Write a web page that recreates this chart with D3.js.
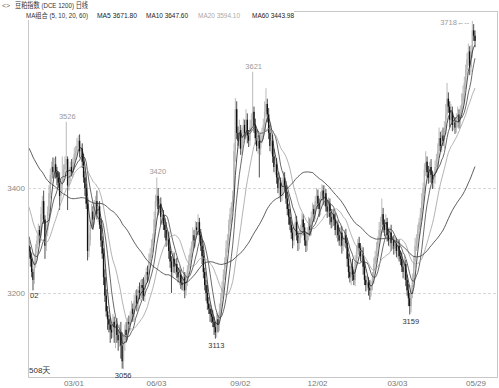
<!DOCTYPE html>
<html>
<head>
<meta charset="utf-8">
<script src="https://cdn.jsdelivr.net/npm/d3@7"></script>
<style>
body { margin: 0; background: #fff; }
svg { display: block; }
text { font-family: "Liberation Sans", "Noto Sans CJK SC", sans-serif; }
</style>
</head>
<body>
<div id="chart"></div>
<script>
// closes before the visible window, only used so the moving averages start right
const prevCloses = [
    3585, 3570, 3592, 3560, 3548, 3575, 3590, 3566, 3540, 3555,
    3572, 3580, 3558, 3545, 3562, 3551, 3538, 3560, 3549, 3555,
    3560, 3541, 3528, 3550, 3535, 3548, 3522, 3540, 3530, 3545,
    3500, 3480, 3470, 3455, 3462, 3448, 3470, 3452, 3440, 3455,
    3440, 3425, 3432, 3418, 3410, 3428, 3415, 3405, 3420, 3400,
    3370, 3345, 3330, 3312, 3295, 3305, 3280, 3270, 3290
];

// daily closes shown on the chart
const close = [
    3280, 3265, 3240, 3225, 3260, 3285, 3300, 3320, 3310, 3350,
    3375, 3340, 3290, 3320, 3355, 3390, 3425, 3440, 3430, 3445,
    3430, 3420, 3410, 3385, 3405, 3420, 3435, 3445, 3455, 3405,
    3425, 3440, 3430, 3450, 3465, 3470, 3480, 3490, 3470, 3475,
    3450, 3420, 3400, 3370, 3280, 3300, 3330, 3355, 3340, 3365,
    3375, 3350, 3365, 3330, 3300, 3275, 3230, 3195, 3165, 3150,
    3140, 3130, 3125, 3145, 3135, 3140, 3120, 3110, 3125, 3100,
    3070, 3110, 3130, 3120, 3145, 3140, 3155, 3170, 3160, 3185,
    3195, 3180, 3205, 3200, 3215, 3210, 3195, 3225, 3240, 3235,
    3260, 3275, 3290, 3305, 3340, 3375, 3385, 3360, 3370, 3345,
    3350, 3330, 3320, 3300, 3305, 3280, 3260, 3240, 3265, 3250,
    3255, 3240, 3230, 3235, 3220, 3215, 3230, 3205, 3225, 3245,
    3260, 3275, 3290, 3310, 3300, 3325, 3320, 3335, 3310, 3290,
    3270, 3240, 3215, 3200, 3180, 3170, 3160, 3155, 3145, 3135,
    3125, 3150, 3140, 3165, 3190, 3210, 3235, 3260, 3285, 3300,
    3330, 3350, 3365, 3385, 3470, 3550, 3505, 3490, 3510, 3475,
    3500, 3520, 3505, 3530, 3500, 3490, 3515, 3530, 3545, 3520,
    3495, 3480, 3490, 3475, 3495, 3500, 3520, 3545, 3560, 3540,
    3505, 3480, 3490, 3460, 3440, 3445, 3420, 3400, 3410, 3385,
    3400, 3420, 3405, 3380, 3360, 3345, 3330, 3315, 3300, 3320,
    3335, 3310, 3295, 3305, 3320, 3340, 3325, 3300, 3290, 3315,
    3330, 3320, 3345, 3360, 3350, 3375, 3385, 3370, 3360, 3385,
    3395, 3380, 3390, 3365, 3355, 3370, 3345, 3335, 3350, 3340,
    3320, 3330, 3310, 3300, 3315, 3290, 3300, 3310, 3295, 3265,
    3240, 3230, 3250, 3235, 3225, 3260, 3280, 3295, 3285, 3270,
    3275, 3250, 3225, 3215, 3220, 3210, 3205, 3215, 3230, 3255,
    3270, 3285, 3300, 3320, 3335, 3350, 3330, 3320, 3335, 3310,
    3300, 3315, 3295, 3300, 3285, 3295, 3280, 3290, 3270, 3265,
    3250, 3240, 3255, 3225, 3205, 3190, 3175, 3200, 3225, 3260,
    3290, 3300, 3320, 3335, 3350, 3375, 3400, 3435, 3450, 3430,
    3420, 3440, 3425, 3410, 3420, 3440, 3455, 3470, 3495, 3480,
    3500, 3490, 3515, 3540, 3570, 3555, 3530, 3545, 3520, 3525,
    3515, 3530, 3540, 3525, 3545, 3560, 3580, 3600, 3625, 3645,
    3660, 3630, 3660, 3700, 3690, 3680
];

// upper shadow above the body, points
const wickUp = [
    10, 8, 12, 6, 15, 8, 10, 12, 8, 14,
    10, 20, 8, 12, 10, 15, 12, 10, 18, 12,
    15, 10, 12, 20, 8, 40, 10, 15, 71, 5,
    12, 10, 15, 8, 12, 10, 15, 10, 12, 8,
    10, 15, 12, 8, 10, 12, 8, 15, 10, 12,
    10, 20, 8, 10, 12, 8, 10, 15, 12, 10,
    8, 12, 10, 15, 10, 8, 12, 10, 15, 20,
    25, 12, 10, 15, 8, 12, 10, 15, 10, 12,
    10, 12, 8, 15, 10, 12, 20, 10, 8, 12,
    15, 10, 12, 8, 15, 12, 35, 15, 10, 12,
    10, 8, 12, 15, 10, 12, 8, 10, 15, 12,
    10, 12, 8, 15, 10, 12, 20, 10, 12, 8,
    12, 10, 8, 15, 10, 12, 10, 15, 8, 12,
    10, 12, 8, 10, 15, 12, 8, 10, 12, 10,
    10, 12, 8, 15, 10, 12, 10, 8, 15, 12,
    10, 12, 8, 10, 15, 21, 15, 12, 20, 10,
    15, 12, 10, 20, 12, 10, 15, 12, 76, 10,
    12, 15, 10, 12, 10, 15, 12, 20, 30, 10,
    12, 15, 10, 12, 15, 10, 12, 8, 20, 10,
    15, 12, 10, 8, 12, 10, 15, 8, 10, 12,
    10, 12, 8, 15, 10, 12, 10, 8, 12, 10,
    15, 12, 10, 12, 8, 10, 15, 12, 10, 8,
    12, 10, 15, 8, 10, 12, 10, 15, 8, 10,
    12, 10, 8, 15, 10, 12, 8, 10, 12, 10,
    10, 12, 8, 15, 10, 12, 10, 8, 12, 10,
    15, 12, 10, 8, 12, 10, 15, 8, 10, 12,
    10, 12, 8, 15, 10, 30, 12, 10, 15, 8,
    12, 10, 15, 8, 10, 12, 10, 8, 12, 10,
    12, 10, 15, 8, 10, 12, 10, 15, 12, 10,
    15, 12, 10, 8, 12, 15, 10, 12, 20, 10,
    12, 10, 15, 8, 10, 12, 10, 15, 20, 12,
    10, 15, 12, 20, 30, 12, 10, 15, 10, 12,
    10, 12, 15, 10, 12, 20, 15, 12, 10, 12,
    15, 10, 12, 18, 12, 10
];

// lower shadow below the body, points
const wickDown = [
    12, 15, 10, 20, 8, 12, 10, 8, 15, 10,
    12, 8, 25, 10, 12, 8, 10, 15, 12, 10,
    12, 15, 10, 27, 10, 12, 8, 10, 12, 47,
    10, 12, 8, 10, 15, 12, 10, 8, 12, 10,
    12, 10, 15, 10, 18, 12, 10, 8, 15, 10,
    12, 10, 15, 8, 12, 10, 15, 12, 10, 20,
    15, 25, 12, 10, 30, 40, 15, 20, 12, 25,
    14, 15, 20, 12, 10, 15, 12, 10, 15, 12,
    12, 15, 10, 12, 15, 20, 10, 12, 10, 15,
    12, 10, 8, 12, 10, 15, 10, 12, 8, 15,
    12, 10, 15, 12, 10, 15, 12, 40, 10, 12,
    15, 12, 10, 15, 12, 10, 12, 15, 10, 12,
    10, 12, 8, 10, 15, 12, 10, 8, 12, 10,
    15, 12, 10, 15, 12, 10, 15, 12, 10, 15,
    12, 10, 15, 12, 10, 15, 12, 10, 12, 8,
    10, 12, 15, 10, 15, 20, 12, 10, 15, 12,
    10, 15, 12, 10, 15, 12, 10, 8, 12, 15,
    12, 10, 15, 55, 12, 10, 8, 12, 10, 15,
    12, 10, 15, 12, 10, 15, 12, 10, 20, 12,
    10, 15, 12, 10, 12, 15, 10, 12, 15, 10,
    12, 10, 15, 12, 10, 12, 15, 10, 12, 10,
    15, 12, 10, 12, 15, 10, 12, 10, 15, 12,
    10, 12, 15, 10, 12, 10, 15, 12, 10, 12,
    10, 15, 12, 10, 12, 15, 10, 12, 10, 15,
    12, 10, 15, 12, 10, 12, 10, 15, 12, 10,
    12, 15, 10, 12, 10, 15, 18, 12, 10, 12,
    10, 12, 15, 10, 12, 10, 15, 12, 10, 12,
    10, 12, 15, 10, 12, 10, 12, 15, 10, 12,
    10, 12, 15, 12, 10, 15, 16, 12, 10, 15,
    12, 10, 15, 12, 10, 12, 15, 10, 12, 10,
    12, 10, 15, 12, 10, 12, 10, 15, 12, 10,
    12, 10, 15, 12, 10, 12, 15, 10, 12, 10,
    12, 10, 15, 12, 10, 12, 10, 15, 12, 10,
    12, 15, 10, 12, 10, 12
];

const dateLabels = ["03/01", "06/03", "09/02", "12/02", "03/03", "05/29"];
const dateIndex = [33, 95, 158, 216, 276, 335];
const priceTicks = [3200, 3400];
const maPeriods = [5, 10, 20, 60];
const maLegendValues = ["3671.80", "3647.60", "3594.10", "3443.98"];
const highMarks = [28, 96, 168, 333];
const lowMarks = [70, 140, 286];

const width = 499, height = 388;
const plot = { left: 28, right: 497, top: 11, bottom: 377 };

const svg = d3.select("#chart")
    .append("svg")
    .attr("width", width)
    .attr("height", height);

const N = close.length;
const open = close.map((c, i) => i === 0 ? prevCloses[prevCloses.length - 1] : close[i - 1]);
const high = close.map((c, i) => Math.max(open[i], c) + (wickUp[i] || 0));
const low = close.map((c, i) => Math.min(open[i], c) - (wickDown[i] || 0));

const x = d3.scaleLinear().domain([0, N - 1]).range([29, 475]);
const y = d3.scaleLinear().domain([3040, 3737]).range([plot.bottom, plot.top]);

// frame
svg.append("rect")
    .attr("x", plot.left + 0.5)
    .attr("y", plot.top + 0.5)
    .attr("width", plot.right - plot.left)
    .attr("height", plot.bottom - plot.top)
    .attr("fill", "none")
    .attr("stroke", "#c8c8c8");

// dashed grid
svg.selectAll(".grid")
    .data(priceTicks)
    .enter()
    .append("line")
    .attr("x1", plot.left)
    .attr("x2", plot.right)
    .attr("y1", d => Math.round(y(d)) + 0.5)
    .attr("y2", d => Math.round(y(d)) + 0.5)
    .attr("stroke", "#d8d8d8")
    .attr("stroke-dasharray", "3,2");

svg.selectAll(".ylab")
    .data(priceTicks)
    .enter()
    .append("text")
    .attr("x", plot.left - 3)
    .attr("y", d => y(d) + 3)
    .attr("text-anchor", "end")
    .style("font-size", "8px")
    .attr("fill", "#888")
    .text(d => d);

svg.append("clipPath").attr("id", "clip")
    .append("rect")
    .attr("x", plot.left + 1)
    .attr("y", plot.top + 1)
    .attr("width", plot.right - plot.left - 1)
    .attr("height", plot.bottom - plot.top - 1);

const body = svg.append("g").attr("clip-path", "url(#clip)");

// candles
const candles = body.selectAll(".candle")
    .data(close.map((c, i) => ({ i, o: open[i], c, h: high[i], l: low[i] })))
    .enter()
    .append("g");

candles.append("line")
    .attr("x1", d => x(d.i))
    .attr("x2", d => x(d.i))
    .attr("y1", d => y(d.h))
    .attr("y2", d => y(d.l))
    .attr("stroke", d => d.c >= d.o ? "#a8a8a8" : "#222")
    .attr("stroke-width", 0.8);

candles.append("rect")
    .attr("x", d => x(d.i) - 0.7)
    .attr("width", 1.4)
    .attr("y", d => y(Math.max(d.o, d.c)))
    .attr("height", d => Math.max(0.8, Math.abs(y(d.o) - y(d.c))))
    .attr("fill", d => d.c >= d.o ? "#b4b4b4" : "#111");

// moving averages
const allCloses = prevCloses.concat(close);
const offset = prevCloses.length;
function movingAverage(n) {
    return close.map((c, i) => {
        const end = i + offset;
        if (end - n + 1 < 0) return null;
        return d3.mean(allCloses.slice(end - n + 1, end + 1));
    });
}

const maColors = ["#222", "#444", "#a0a0a0", "#333"];
const line = d3.line()
    .defined(d => d != null)
    .x((d, i) => x(i))
    .y(d => y(d));

maPeriods.forEach((n, k) => {
    body.append("path")
        .datum(movingAverage(n))
        .attr("d", line)
        .attr("fill", "none")
        .attr("stroke", maColors[k])
        .attr("stroke-width", 0.8);
});

// extreme labels
highMarks.forEach((i, k) => {
    const last = k === highMarks.length - 1;
    svg.append("text")
        .attr("x", last ? x(i) - 3 : x(i) + 1)
        .attr("y", last ? y(high[i]) + 4 : y(high[i]) - 3)
        .attr("text-anchor", last ? "end" : "middle")
        .style("font-size", "7.5px")
        .attr("fill", "#9a9a9a")
        .text(last ? high[i] + "←--" : high[i]);
});

lowMarks.forEach(i => {
    svg.append("text")
        .attr("x", x(i) + 1)
        .attr("y", y(low[i]) + 9)
        .attr("text-anchor", "middle")
        .style("font-size", "7.5px")
        .attr("fill", "#333")
        .text(low[i]);
});

// dates
svg.selectAll(".xlab")
    .data(dateLabels)
    .enter()
    .append("text")
    .attr("x", (d, i) => x(dateIndex[i]) + 1)
    .attr("y", 386)
    .attr("text-anchor", "middle")
    .style("font-size", "8px")
    .attr("fill", "#777")
    .text(d => d);

svg.append("text")
    .attr("x", plot.left + 1)
    .attr("y", 373)
    .style("font-size", "8px")
    .attr("fill", "#333")
    .text("508天");

svg.append("text")
    .attr("x", plot.left + 2)
    .attr("y", 298)
    .style("font-size", "7.5px")
    .attr("fill", "#333")
    .text("02");

// header
svg.append("rect")
    .attr("x", 0).attr("y", 0)
    .attr("width", 294).attr("height", 20)
    .attr("fill", "#fff");

svg.append("text")
    .attr("x", 2)
    .attr("y", 8)
    .style("font-size", "7px")
    .attr("fill", "#666")
    .text("<>");

svg.append("text")
    .attr("x", 15)
    .attr("y", 8)
    .style("font-size", "7.5px")
    .attr("fill", "#333")
    .attr("textLength", 73)
    .attr("lengthAdjust", "spacingAndGlyphs")
    .text("豆粕指数 (DCE 1200) 日线");

svg.append("text")
    .attr("x", 26)
    .attr("y", 18)
    .style("font-size", "7px")
    .attr("fill", "#333")
    .attr("textLength", 62)
    .attr("lengthAdjust", "spacingAndGlyphs")
    .text("MA组合 (5, 10, 20, 60)");

const legendX = [97, 146, 198, 252];
const legendW = [40, 42, 42, 42];
const legendColors = ["#222", "#222", "#aaa", "#222"];
maPeriods.forEach((n, k) => {
    svg.append("text")
        .attr("x", legendX[k])
        .attr("y", 18)
        .style("font-size", "7px")
        .attr("fill", legendColors[k])
        .attr("textLength", legendW[k])
        .attr("lengthAdjust", "spacingAndGlyphs")
        .text(`MA${n} ${maLegendValues[k]}`);
});
</script>
</body>
</html>
